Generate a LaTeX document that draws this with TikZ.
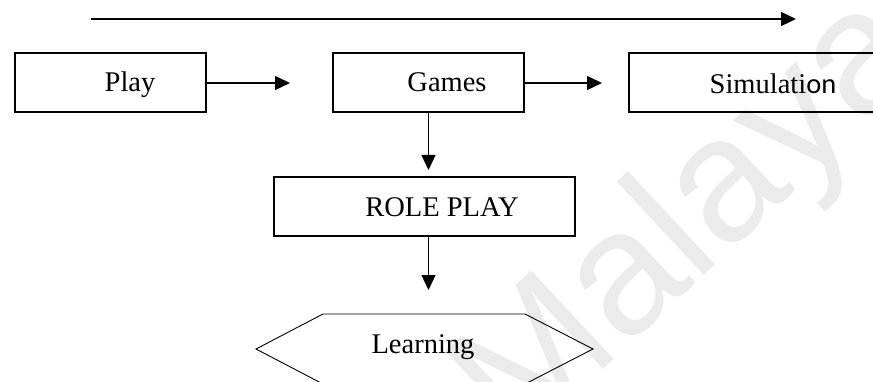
\documentclass[tikz,border=0pt]{standalone}
\usepackage{fontspec}
\setmainfont{Liberation Serif}
\newfontfamily\sansfamilyC{Carlito}
\newfontfamily\wmfont{Liberation Sans}
\usetikzlibrary{arrows.meta}

\tikzset{
  flowbox/.style={draw=black, line width=2pt, rectangle, inner sep=0pt,
                  minimum height=59pt},
  label text/.style={inner sep=0pt, anchor=base,
                     font=\fontsize{28.5}{34}\selectfont},
  arr/.style={line width=1.3pt, -{Triangle[length=15pt,width=14pt]}},
  outline/.style={draw=black, line width=0.9pt, line join=miter},
}

\begin{document}
\begin{tikzpicture}[x=1pt, y=-1pt]
  \useasboundingbox (0,0) rectangle (873,382);
  \clip (0,0) rectangle (873,382);
  \fill[white] (0,0) rectangle (873,382);

  % repository watermark
  \node[rotate=43, anchor=base west, inner sep=0pt, text=black!8,
        font=\wmfont\fontsize{176}{176}\selectfont] (wm) at (517,450) {Malaya};

  % overall direction arrow
  \coordinate (t0) at (91,19);
  \coordinate (t1) at (796,19);
  \draw[arr] (t0) -- (t1);

  % top row of boxes
  \node[flowbox, minimum width=191pt] (play)  at (110.5,83) {};
  \node[flowbox, minimum width=191pt] (games) at (428.5,83) {};
  \node[flowbox, minimum width=280pt, anchor=west] (sim) at (628,83) {};

  \node[label text] (playT)  at (130,92) {Play};
  \node[label text] (gamesT) at (447,92) {Games};
  \node[label text] (simT)   at (773,94) {Simulati{\sansfamilyC on}};

  \coordinate (a1) at (290,83);
  \coordinate (a2) at (602,83);
  \draw[arr] (play.east) -- (a1);
  \draw[arr] (games.east) -- (a2);

  % role play box
  \node[flowbox, minimum width=301pt] (role) at (424.5,206.5) {};
  \node[label text] (roleT) at (442,217) {ROLE PLAY};

  \coordinate (d1) at (428.5,170);
  \coordinate (d2) at (428.5,290);
  \draw[arr] (games.south) -- (d1);
  \draw[arr] (role.south -| d2) -- (d2);

  % learning hexagon
  \coordinate (h1) at (256,349);
  \coordinate (h2) at (323,314);
  \coordinate (h3) at (525,314);
  \coordinate (h4) at (593,349);
  \coordinate (h5) at (525,384);
  \coordinate (h6) at (323,384);
  \draw[outline] (h1) -- (h2) -- (h3) -- (h4) -- (h5) -- (h6) -- cycle;
  \node[label text] (learnT) at (423,353) {Learning};
\end{tikzpicture}
\end{document}
